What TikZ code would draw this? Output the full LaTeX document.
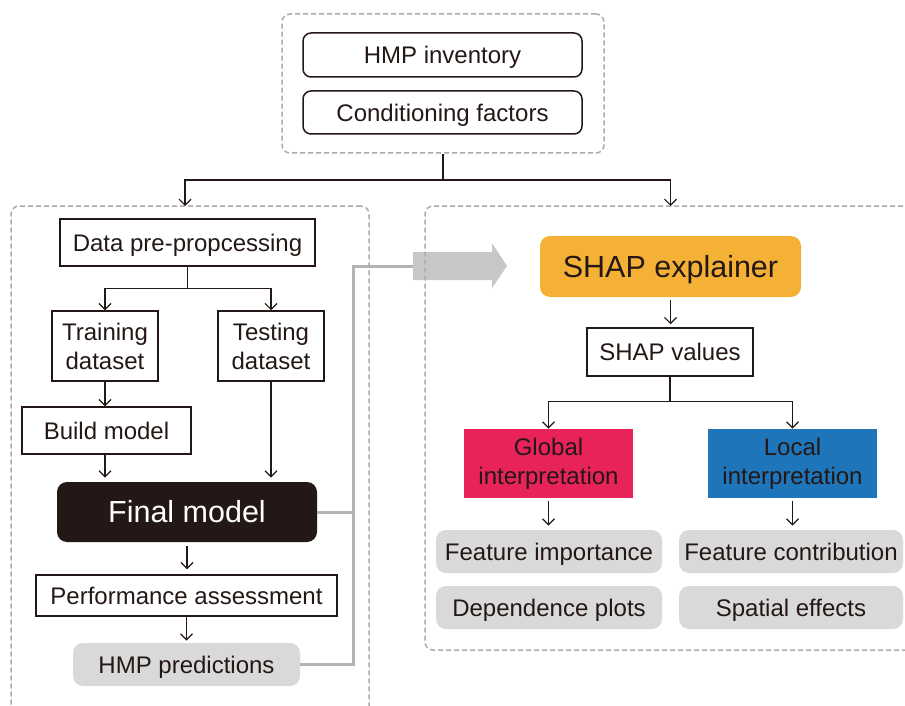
\documentclass[tikz,border=0pt]{standalone}
\usepackage{fontspec}
\setmainfont{Liberation Sans}
\usetikzlibrary{arrows.meta}

\definecolor{ink}{HTML}{231815}
\definecolor{shapcol}{HTML}{F4B135}
\definecolor{globcol}{HTML}{E8235A}
\definecolor{loccol}{HTML}{1F75B9}
\definecolor{boxgray}{HTML}{D9D9D9}
\definecolor{feedgray}{HTML}{B4B4B4}
\definecolor{arrowgray}{HTML}{C6C8C7}
\definecolor{dashgray}{HTML}{ABABAB}

\begin{document}
\begin{tikzpicture}[x=0.5pt,y=-0.5pt,
  every node/.style={text=ink,inner sep=0pt,align=center,font=\fontsize{12}{14.5}\selectfont},
  oneline/.style={text height=11pt,text depth=2.4pt},
  plainbox/.style={draw=ink,line width=0.75pt},
  roundbox/.style={plainbox,oneline,rounded corners=4pt},
  graybox/.style={fill=boxgray,oneline,rounded corners=5pt},
  bigfont/.style={font=\fontsize{15.25}{18}\selectfont,text height=14pt,text depth=3.1pt},
  groupbox/.style={draw=dashgray,line width=0.75pt,dash pattern=on 2.5pt off 1.5pt,rounded corners=4pt},
  flow/.style={draw=ink,line width=0.6pt,-{Straight Barb[length=3pt,width=6pt]}},
  link/.style={draw=ink,line width=0.6pt},
  feed/.style={draw=feedgray,line width=1.5pt}]

\useasboundingbox (0,0) rectangle (905,706);

\node[roundbox,minimum width=139.5pt,minimum height=22pt] (inv) at (442.5,55) {HMP inventory};
\node[roundbox,minimum width=139.5pt,minimum height=21.5pt] (cond) at (442.5,112.5) {Conditioning factors};

\node[plainbox,oneline,minimum width=127.5pt,minimum height=23.5pt] (prep) at (187.5,242.5) {Data pre-propcessing};
\node[plainbox,minimum width=53pt,minimum height=35pt] (train) at (105,346) {Training\\dataset};
\node[plainbox,minimum width=53pt,minimum height=35pt] (test) at (271,346) {Testing\\dataset};
\node[plainbox,oneline,minimum width=84.5pt,minimum height=23.5pt] (build) at (106.5,430.5) {Build model};
\node[fill=ink,text=white,rounded corners=5pt,bigfont,minimum width=130pt,minimum height=30pt] (final) at (187,512) {Final model};
\node[plainbox,oneline,minimum width=150.5pt,minimum height=20.5pt] (perf) at (186.5,595.5) {Performance assessment};
\node[graybox,minimum width=113.5pt,minimum height=21.5pt] (pred) at (186.5,664.5) {HMP predictions};

\node[fill=shapcol,rounded corners=5pt,bigfont,minimum width=130.5pt,minimum height=30.5pt] (shap) at (670.5,266.5) {SHAP explainer};
\node[plainbox,oneline,minimum width=83pt,minimum height=24pt] (vals) at (670,352) {SHAP values};
\node[fill=globcol,minimum width=84.5pt,minimum height=34.5pt] (glob) at (548.5,463.5) {Global\\interpretation};
\node[fill=loccol,minimum width=84.5pt,minimum height=34.5pt] (loc) at (792.5,463.5) {Local\\interpretation};
\node[graybox,minimum width=113pt,minimum height=21.5pt] (imp) at (549,551.5) {Feature importance};
\node[graybox,minimum width=113pt,minimum height=21.5pt] (dep) at (549,607.5) {Dependence plots};
\node[graybox,minimum width=112pt,minimum height=21.5pt] (contr) at (791,551.5) {Feature contribution};
\node[graybox,minimum width=112pt,minimum height=21.5pt] (spat) at (791,607.5) {Spatial effects};

\fill[arrowgray] (413,252) -- (492,252) -- (492,243) -- (507,266) -- (492,288) -- (492,280) -- (413,280) -- cycle;
\coordinate (tail) at (413,266.5);
\coordinate (rise) at (353,266.5);
\draw[feed] (pred.east) -| (rise) -- (tail);
\draw[feed] (final.east) -- (final.east -| rise);

\node[groupbox,minimum width=161pt,minimum height=69.5pt] (inputs) at (443,83.5) {};
\node[groupbox,minimum width=179pt,minimum height=255pt] (modelbox) at (190,461) {};
\node[groupbox,minimum width=255pt,minimum height=222pt] (explbox) at (680,428) {};

\coordinate (split) at (443,180);
\draw[link] (inputs.south) -- (split);
\draw[flow] (split) -| (185,206);
\draw[flow] (split) -| (670.5,206);

\draw[link] (prep.south) -- ++(0,22) coordinate (psplit);
\draw[flow] (psplit) -| (train.north);
\draw[flow] (psplit) -| (test.north);
\draw[flow] (train.south) -- (train.south |- build.north);
\draw[flow,shorten >=2pt] (build.south -| train.south) -- (train.south |- final.north);
\draw[flow,shorten >=2pt] (test.south) -- (test.south |- final.north);
\draw[flow,shorten <=2pt,shorten >=2.5pt] (final.south) -- (final.south |- perf.north);
\draw[flow,shorten >=1pt] (perf.south) -- (perf.south |- pred.north);

\draw[flow,shorten <=1.5pt,shorten >=1.5pt] (shap.south) -- (shap.south |- vals.north);
\draw[link] (vals.south) -- ++(0,25) coordinate (vsplit);
\draw[flow] (vsplit) -| (glob.north);
\draw[flow] (vsplit) -| (loc.north);
\draw[flow,shorten <=1.5pt,shorten >=2pt] (glob.south) -- (glob.south |- imp.north);
\draw[flow,shorten <=1.5pt,shorten >=2pt] (loc.south) -- (loc.south |- contr.north);

\end{tikzpicture}
\end{document}
